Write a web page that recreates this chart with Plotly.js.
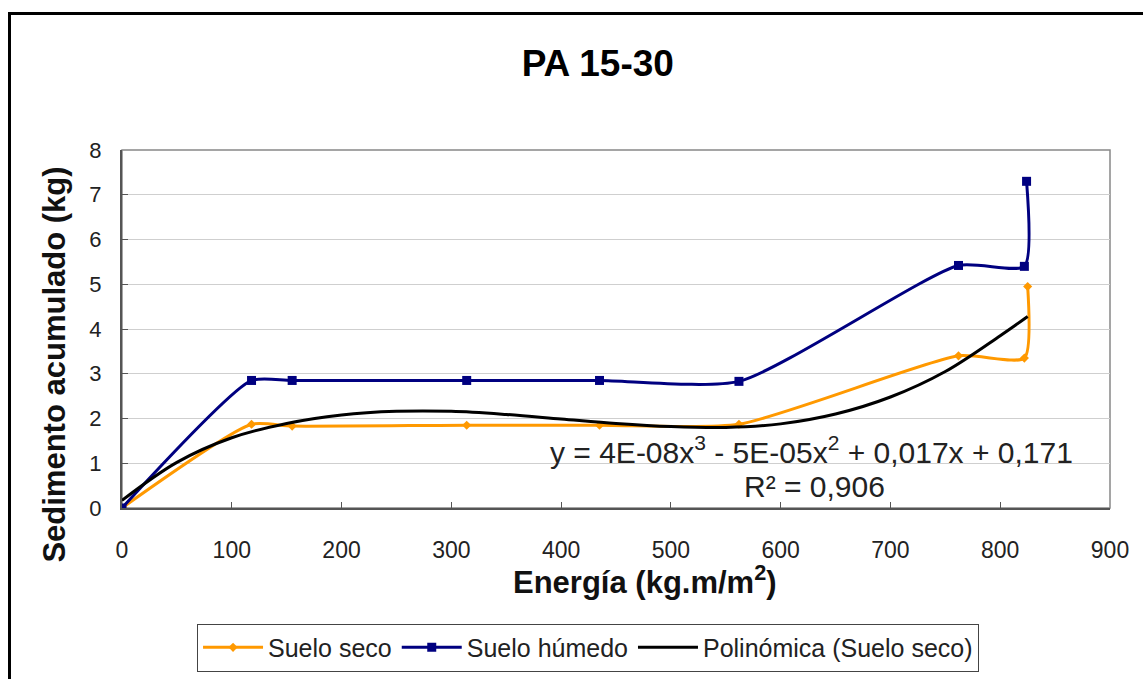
<!DOCTYPE html>
<html>
<head>
<meta charset="utf-8">
<script src="https://cdn.plot.ly/plotly-3.0.1.min.js"></script>
<style>
  html, body { margin: 0; padding: 0; background: #fff; }
  #chart { width: 1143px; height: 679px; }
  #frame { position: absolute; left: 8px; top: 12px; width: 1200px; height: 700px;
           border-left: 3px solid #000; border-top: 3px solid #000; pointer-events: none; }
</style>
</head>
<body>
<div id="chart"></div>
<div id="frame"></div>
<script>
// Energy (kg.m/m2) and accumulated sediment (kg)
const secoX   = [0, 118, 155, 314, 435, 562, 762, 822, 825];
const secoY   = [0, 1.87, 1.83, 1.85, 1.85, 1.87, 3.40, 3.35, 4.95];
const humedoX = [0, 118, 155, 314, 435, 562, 762, 822, 824];
const humedoY = [0, 2.85, 2.85, 2.85, 2.85, 2.83, 5.42, 5.40, 7.30];
// Polynomial trend line (Suelo seco)
const trendX  = [0, 50, 100, 150, 200, 250, 300, 350, 400, 450, 500, 550, 600, 650, 700, 750, 800, 825];
const trendY  = [0.17, 1.02, 1.57, 1.89, 2.08, 2.16, 2.16, 2.09, 1.99, 1.89, 1.82, 1.80, 1.88, 2.10, 2.48, 3.05, 3.85, 4.28];
const xTicks  = [0, 100, 200, 300, 400, 500, 600, 700, 800, 900];
const yTicks  = [0, 1, 2, 3, 4, 5, 6, 7, 8];
const names   = ['Suelo seco', 'Suelo húmedo', 'Polinómica (Suelo seco)'];
const chartTitle = 'PA 15-30';
const xTitle = 'Energía (kg.m/m<sup>2</sup>)';
const yTitle = 'Sedimento acumulado (kg)';
const eqText = 'y = 4E-08x<sup>3</sup> - 5E-05x<sup>2</sup> + 0,017x + 0,171';
const r2Text = 'R² = 0,906';

const FONT = 'Liberation Sans, Arial, sans-serif';

const traces = [
  { x: secoX, y: secoY, name: names[0], type: 'scatter', mode: 'lines+markers',
    line: { color: '#FF9900', width: 3, shape: 'spline', smoothing: 0.6 },
    marker: { symbol: 'diamond', size: 7, color: '#FF9900' } },
  { x: humedoX, y: humedoY, name: names[1], type: 'scatter', mode: 'lines+markers',
    line: { color: '#000080', width: 3, shape: 'spline', smoothing: 0.6 },
    marker: { symbol: 'square', size: 9, color: '#000080' } },
  { x: trendX, y: trendY, name: names[2], type: 'scatter', mode: 'lines',
    line: { color: '#000000', width: 3, shape: 'spline', smoothing: 1 } }
];

const layout = {
  width: 1143, height: 679,
  paper_bgcolor: '#fff', plot_bgcolor: '#fff',
  margin: { l: 122, r: 33, t: 150, b: 171, autoexpand: false },
  font: { family: FONT, color: '#111' },
  title: { text: '<b>' + chartTitle + '</b>', font: { size: 37, family: FONT, color: '#000' },
           xref: 'container', x: 0.523, xanchor: 'center', yref: 'container', y: 0.907, yanchor: 'middle' },
  xaxis: { range: [0, 900], tickvals: xTicks, ticktext: xTicks.map(String),
           ticks: 'inside', ticklen: 6, tickcolor: '#555', tickwidth: 1,
           showline: true, linecolor: '#555', linewidth: 2,
           showgrid: false, zeroline: false,
           tickfont: { size: 23, family: FONT, color: '#222' }, ticklabelstandoff: 20 },
  yaxis: { range: [0, 8], tickvals: yTicks, ticktext: yTicks.map(String),
           ticks: 'inside', ticklen: 6, tickcolor: '#555', tickwidth: 1,
           showline: true, linecolor: '#555', linewidth: 2,
           showgrid: true, gridcolor: '#cfcfcf', gridwidth: 1, zeroline: false,
           tickfont: { size: 22, family: FONT, color: '#222' }, ticklabelstandoff: 14 },
  shapes: [
    { type: 'rect', xref: 'paper', yref: 'paper', x0: 0, x1: 1, y0: 0, y1: 1,
      line: { color: '#888', width: 1.5 }, layer: 'below' }
  ],
  annotations: [
    { text: '<b>' + xTitle + '</b>', xref: 'paper', yref: 'paper', x: 0.529, y: -0.20,
      xanchor: 'center', yanchor: 'middle', showarrow: false, font: { size: 31, family: FONT, color: '#111' } },
    { text: '<b>' + yTitle + '</b>', xref: 'paper', yref: 'paper', x: -0.068, y: 0.40,
      xanchor: 'center', yanchor: 'middle', textangle: -90, showarrow: false,
      font: { size: 31, family: FONT, color: '#111' } },
    { text: eqText, xref: 'paper', yref: 'paper', x: 0.698, y: 0.162,
      xanchor: 'center', yanchor: 'middle', showarrow: false, font: { size: 30, family: FONT, color: '#222' } },
    { text: r2Text, xref: 'paper', yref: 'paper', x: 0.701, y: 0.059,
      xanchor: 'center', yanchor: 'middle', showarrow: false, font: { size: 30, family: FONT, color: '#222' } }
  ],
  showlegend: true,
  legend: { orientation: 'h', x: 0.4717, xanchor: 'center', y: -0.39, yanchor: 'middle',
            bordercolor: '#444', borderwidth: 1, bgcolor: '#fff', itemwidth: 60,
            font: { size: 25, family: FONT, color: '#222' }, traceorder: 'normal' }
};

Plotly.newPlot('chart', traces, layout, { displayModeBar: false, staticPlot: true });
</script>
</body>
</html>
